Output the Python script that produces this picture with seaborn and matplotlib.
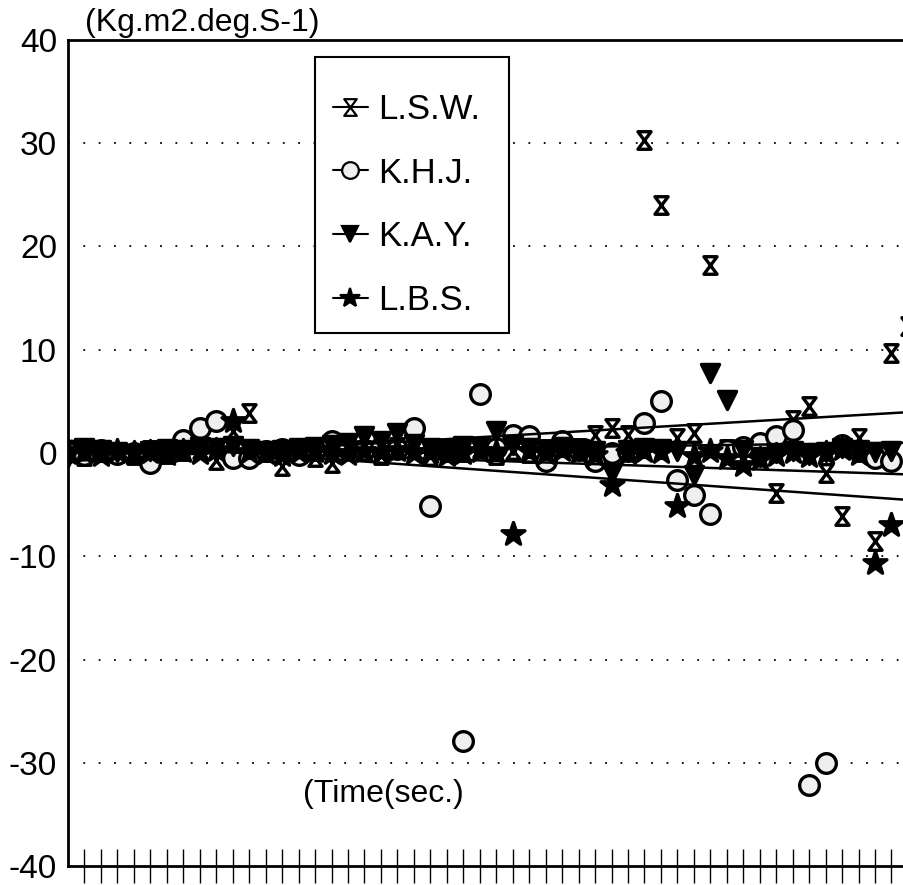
import numpy as np
import pandas as pd
import matplotlib
matplotlib.use("Agg")
import matplotlib.pyplot as plt
from matplotlib.path import Path
from matplotlib.lines import Line2D
from matplotlib.patches import Rectangle
import seaborn as sns

# ---------------- data ----------------
lsw = [0.2, -0.3, 0.1, 0.0, -0.2, 0.3, -0.1, 0.2, 0.4, -0.7,
       2.1, 3.9, 0.1, -1.3, 0.2, -0.4, -1.0, 0.5, 0.3, -0.2,
       0.6, 0.4, -0.3, 0.2, 0.1, 0.5, -0.2, 0.3, 0.0, 0.4,
       0.6, 0.5, 1.7, 2.4, 1.7, 30.3, 24.0, 1.5, 1.9, 18.2,
       0.4, -0.6, 0.3, -3.9, 3.2, 4.6, -1.9, -6.1, 1.5, -8.5,
       9.7, 12.3]
khj = [0.1, -0.2, 0.3, -0.1, 0.0, -1.0, 0.2, 1.3, 2.4, 3.1,
       -0.5, -0.5, 0.2, 0.4, -0.2, 0.3, 1.2, 0.5, 0.3, 0.6,
       0.4, 2.4, -5.1, 0.2, -27.9, 5.7, 0.5, 1.7, 1.6, -0.8,
       1.2, 0.3, -0.8, 0.0, 0.2, 2.9, 5.0, -2.6, -4.1, -5.9,
       0.3, 0.6, 1.0, 1.6, 2.2, -32.2, -30.0, 0.8, 0.2, -0.5,
       -0.8]
kay = [-0.4, 0.5, 0.3, 0.1, -0.1, 0.2, 0.4, 0.3, 0.6, 0.5,
       0.7, 0.4, 0.2, 0.3, 0.5, 0.6, 0.8, 1.0, 1.6, 1.2,
       1.9, 0.9, 0.5, 0.4, 0.7, 0.6, 2.1, 0.8, 0.5, 0.3,
       0.6, 0.4, 0.2, -1.9, 0.3, 0.5, 0.4, 0.2, -2.1, 7.7,
       5.1, 0.3, -0.4, 0.0, 0.2, -0.2, 0.1, 0.5, 0.3, 0.1,
       0.2]
lbs = [0.0, 0.1, -0.2, 0.2, 0.0, 0.1, -0.1, 0.2, 0.0, 0.3,
       3.1, 0.1, 0.0, -0.2, 0.1, 0.2, 0.0, -0.1, 0.2, 0.1,
       0.3, 0.0, 0.1, -0.2, 0.0, 0.2, 0.1, -7.8, 0.2, 0.0,
       0.3, 0.1, -0.2, -3.1, 0.0, 0.2, 0.1, -5.1, -0.3, 0.2,
       -0.5, -1.2, -0.6, -0.2, 0.1, -0.3, 0.0, 0.4, -0.1, -10.7,
       -7.0]
series_names = ["L.S.W.", "K.H.J.", "K.A.Y.", "L.B.S."]
series_vals = [lsw, khj, kay, lbs]

# trend lines (value at start and at right edge)
trend_x = [0, 51.5]
trend_lsw = [-0.8, 4.0]
trend_khj = [0.0, 1.0]
trend_kay = [0.6, -2.1]
trend_lbs = [1.2, -4.6]
trends = [trend_lsw, trend_khj, trend_kay, trend_lbs]

y_ticks = [-40, -30, -20, -10, 0, 10, 20, 30, 40]
grid_levels = [-30, -20, -10, 10, 20, 30]
unit_label = "(Kg.m2.deg.S-1)"
time_label = "(Time(sec.)"

# ---------------- style ----------------
sns.set_theme(style="white")
plt.rcParams["font.family"] = ["Liberation Sans", "DejaVu Sans"]
plt.rcParams["text.color"] = "black"
plt.rcParams["axes.labelcolor"] = "black"
plt.rcParams["xtick.color"] = "black"
plt.rcParams["ytick.color"] = "black"

W, H = 904, 885
fig = plt.figure(figsize=(W / 100, H / 100), dpi=100)
ax_left, ax_right_px = 68, 68 + 51.5 * 16.47
ax_top, ax_bot = 40, 866
ax = fig.add_axes([ax_left / W, (H - ax_bot) / H,
                   (ax_right_px - ax_left) / W, (ax_bot - ax_top) / H])

hour = Path([(-0.75, 1), (0.75, 1), (-0.75, -1), (0.75, -1), (-0.75, 1)],
            [Path.MOVETO, Path.LINETO, Path.LINETO, Path.LINETO, Path.CLOSEPOLY])
markers = [hour, "o", "v", "*"]
faces = ["white", "#efefef", "black", "black"]
sizes = [160, 200, 170, 300]

for g in grid_levels:
    ax.axhline(g, color="black", lw=1.3, ls=(0, (1, 7.5)), zorder=1)

for name, vals, mk, fc, s in zip(series_names, series_vals, markers, faces, sizes):
    df = pd.DataFrame({"t": np.arange(len(vals)), "v": vals})
    sns.scatterplot(data=df, x="t", y="v", ax=ax, marker=mk, s=s,
                    facecolor=fc, edgecolor="black", linewidth=2.4,
                    zorder=3, legend=False)

for tr in trends:
    sns.lineplot(x=trend_x, y=tr, ax=ax, color="black", lw=1.8, zorder=4)

ax.set_xlim(0, 51.5)
ax.set_ylim(-40, 40)
ax.set_xticks(np.arange(1, 52))
ax.set_xticklabels([])
ax.set_yticks(y_ticks)
ax.set_yticklabels([str(v) for v in y_ticks], fontsize=24, color="black")
ax.tick_params(axis="x", which="major", bottom=True, top=False,
               direction="inout", length=24, width=1.0, color="black")
ax.tick_params(axis="y", left=False, length=0, pad=8, labelcolor="black")
ax.set_xlabel("")
ax.set_ylabel("")
for sp in ["left", "bottom", "top"]:
    ax.spines[sp].set_color("black")
    ax.spines[sp].set_linewidth(2.0)
ax.spines["right"].set_visible(False)

fig.text(85 / W, (H - 31) / H, unit_label, fontsize=23, ha="left",
         va="baseline", color="black")
ax.text(0.277, 0.087, time_label, transform=ax.transAxes, fontsize=23,
        ha="left", va="center", color="black")

# legend frame (drawn separately to match the reference's padding)
fig.patches.append(Rectangle((315 / W, (H - 333) / H), (509 - 315) / W,
                             (333 - 57) / H, transform=fig.transFigure,
                             facecolor="white", edgecolor="black", lw=1.5,
                             zorder=5))
handles = []
for name, mk, fc in zip(series_names, markers, faces):
    handles.append(Line2D([], [], color="black", lw=1.5, marker=mk,
                          markersize=12 if mk != "*" else 15,
                          markerfacecolor=fc, markeredgecolor="black",
                          markeredgewidth=1.6))
leg = fig.legend(handles, series_names, loc="upper left",
                 bbox_to_anchor=(333 / W, (H - 93) / H), fontsize=25,
                 frameon=False, handlelength=1.0, handletextpad=0.3,
                 labelspacing=0.88, borderpad=0, borderaxespad=0,
                 labelcolor="black")
leg.set_zorder(6)

fig.savefig("out.png", dpi=100, facecolor="white")
